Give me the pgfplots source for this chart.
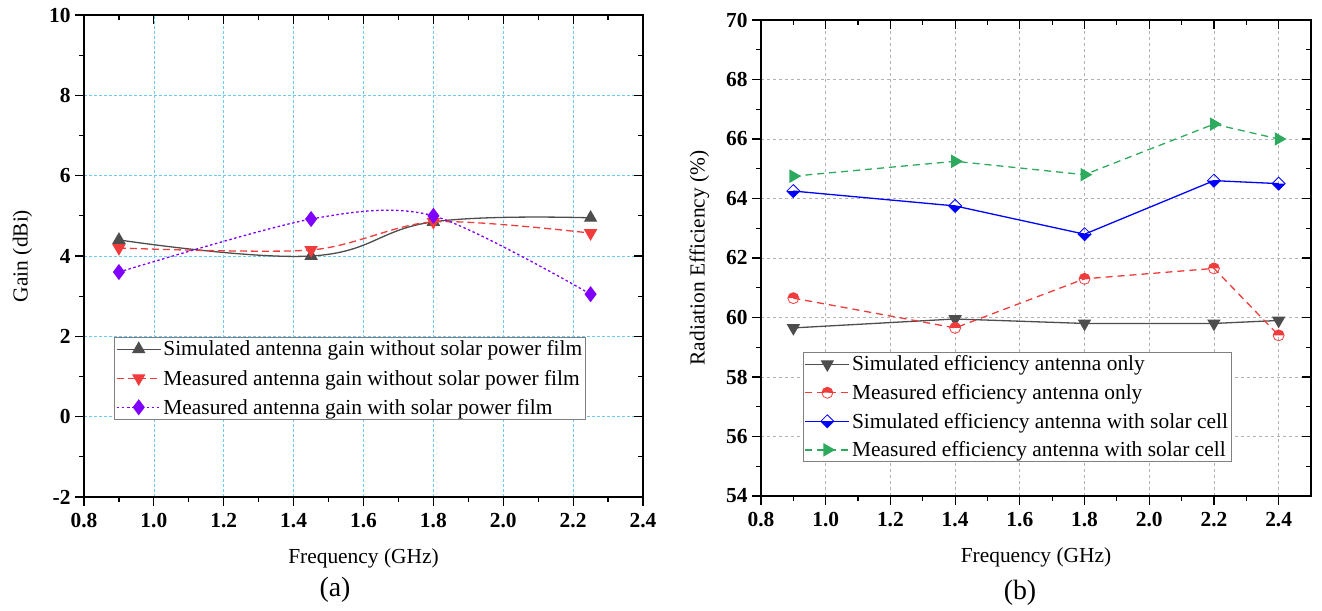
\documentclass[border=0pt]{standalone}
\usepackage{fontspec}
\setmainfont{Liberation Serif}
\usepackage{pgfplots}
\pgfplotsset{compat=1.18}

\definecolor{simgray}{RGB}{77,77,77}
\definecolor{mred}{RGB}{240,60,60}
\definecolor{mpurple}{RGB}{128,0,255}
\definecolor{gridblue}{RGB}{110,200,240}
\definecolor{mblue}{RGB}{0,0,255}
\definecolor{mgreen}{RGB}{46,170,94}

\pgfdeclareplotmark{halfo}{%
  \pgfpathmoveto{\pgfqpoint{\pgfplotmarksize}{0pt}}%
  \pgfpatharc{0}{180}{\pgfplotmarksize}%
  \pgfpathclose
  \pgfusepathqfill
  \pgfpathcircle{\pgfpointorigin}{\pgfplotmarksize}%
  \pgfusepathqstroke
}
\pgfdeclareplotmark{halfdiamond}{%
  \pgfpathmoveto{\pgfqpoint{-\pgfplotmarksize}{0pt}}%
  \pgfpathlineto{\pgfqpoint{0pt}{-\pgfplotmarksize}}%
  \pgfpathlineto{\pgfqpoint{\pgfplotmarksize}{0pt}}%
  \pgfpathclose
  \pgfusepathqfill
  \pgfpathmoveto{\pgfqpoint{-\pgfplotmarksize}{0pt}}%
  \pgfpathlineto{\pgfqpoint{0pt}{-\pgfplotmarksize}}%
  \pgfpathlineto{\pgfqpoint{\pgfplotmarksize}{0pt}}%
  \pgfpathlineto{\pgfqpoint{0pt}{\pgfplotmarksize}}%
  \pgfpathclose
  \pgfusepathqstroke
}

\pgfplotsset{
  common/.style={
    scale only axis,
    axis line style={line width=1.4bp},
    every tick/.style={line width=1.2bp, black},
    major tick length=9bp, minor tick length=5bp,
    tick align=outside,
    xtick pos=bottom, ytick pos=left,
    tick label style={font=\fontsize{21.5}{25}\selectfont},
    xticklabel={\textbf{\pgfmathprintnumber[fixed,fixed zerofill,precision=1,assume math mode=true]{\tick}}},
    yticklabel={\textbf{\pgfmathprintnumber[fixed,precision=0,assume math mode=true]{\tick}}},
    xticklabel style={yshift=-4bp},
    yticklabel style={xshift=-1bp},
    label style={font=\fontsize{21.5}{25}\selectfont},
    xlabel style={yshift=-14bp},
    ylabel style={yshift=10bp},
    minor x tick num=1, minor y tick num=1,
    legend cell align=left,
    legend image code/.code={\draw[mark repeat=2,mark phase=2] plot coordinates {(0bp,0bp) (22bp,0bp) (44bp,0bp)};},
  },
  mirror/.style={
    scale only axis,
    axis line style={line width=1.4bp},
    every tick/.style={line width=1.2bp, black},
    major tick length=9bp, minor tick length=5bp,
    tick align=inside,
    xtick pos=top, ytick pos=right,
    xticklabels={}, yticklabels={},
    minor x tick num=1, minor y tick num=1,
  },
}

\begin{document}
\begin{tikzpicture}
\path[use as bounding box] (0,0) rectangle (1322bp,611bp);

% ---------- (a) ----------
\begin{axis}[common,
  at={(84bp,114bp)}, anchor=south west,
  width=559bp, height=482bp,
  xmin=0.8, xmax=2.4, ymin=-2, ymax=10,
  xtick={0.8,1.0,...,2.41}, ytick={-2,0,...,10},
  grid=major,
  major grid style={densely dashed, gridblue, line width=0.7bp},
  xlabel={Frequency (GHz)}, ylabel={Gain (dBi)},
  legend style={at={(0.054,0.332)}, anchor=north west, draw=gray, line width=0.8bp,
    font=\fontsize{21.5}{25}\selectfont, inner sep=1.5bp, row sep=8.5bp},
]
\addplot[simgray, line width=1.3bp, smooth, tension=0.7, mark=triangle*, mark size=6.5bp, mark options={solid}]
  coordinates {(0.9,4.4) (1.45,4.0) (1.8,4.85) (2.25,4.95)};
\addlegendentry{Simulated antenna gain without solar power film}
\addplot[mred, line width=1.3bp, smooth, dash pattern=on 7bp off 4bp, mark=triangle*, mark size=6.5bp, mark options={solid, rotate=180}]
  coordinates {(0.9,4.2) (1.45,4.15) (1.8,4.85) (2.25,4.57)};
\addlegendentry{Measured antenna gain without solar power film}
\addplot[mpurple, line width=1.3bp, smooth, dash pattern=on 2.5bp off 2.5bp, mark=diamond*, mark size=7bp, mark options={solid}]
  coordinates {(0.9,3.6) (1.45,4.92) (1.8,5.0) (2.25,3.05)};
\addlegendentry{Measured antenna gain with solar power film}
\end{axis}
\begin{axis}[mirror,
  at={(84bp,114bp)}, anchor=south west,
  width=559bp, height=482bp,
  xmin=0.8, xmax=2.4, ymin=-2, ymax=10,
  xtick={0.8,1.0,...,2.41}, ytick={-2,0,...,10},
]
\end{axis}

% ---------- (b) ----------
\begin{axis}[common,
  at={(761bp,115bp)}, anchor=south west,
  width=550bp, height=476bp,
  xmin=0.8, xmax=2.5, ymin=54, ymax=70,
  xtick={0.8,1.0,...,2.41}, ytick={54,56,...,70},
  grid=major,
  major grid style={dash pattern=on 3bp off 3bp, gray!60, line width=0.7bp},
  xlabel={Frequency (GHz)}, ylabel={Radiation Efficiency (\%)},
  legend style={at={(0.076,0.3025)}, anchor=north west, draw=gray, line width=0.8bp,
    font=\fontsize{21.5}{25}\selectfont, inner sep=1.5bp, row sep=8bp},
]
\addplot[simgray, line width=1.3bp, mark=triangle*, mark size=6.5bp, mark options={solid, rotate=180}]
  coordinates {(0.9,59.65) (1.4,59.95) (1.8,59.8) (2.2,59.8) (2.4,59.9)};
\addlegendentry{Simulated efficiency antenna only}
\addplot[mred, line width=1.3bp, dash pattern=on 7bp off 5bp, mark=halfo, mark size=5.5bp, mark options={solid, fill=mred, draw=mred, line width=0.8bp}]
  coordinates {(0.9,60.65) (1.4,59.65) (1.8,61.3) (2.2,61.65) (2.4,59.4)};
\addlegendentry{Measured efficiency antenna only}
\addplot[mblue, line width=1.3bp, mark=halfdiamond, mark size=6.5bp, mark options={solid, fill=mblue, draw=mblue, line width=0.8bp}]
  coordinates {(0.9,64.25) (1.4,63.75) (1.8,62.8) (2.2,64.6) (2.4,64.5)};
\addlegendentry{Simulated efficiency antenna with solar cell}
\addplot[mgreen, line width=1.3bp, dash pattern=on 7bp off 5bp, mark=triangle*, mark size=6.5bp, mark options={solid, rotate=-90}]
  coordinates {(0.9,64.75) (1.4,65.25) (1.8,64.8) (2.2,66.5) (2.4,66.0)};
\addlegendentry{Measured efficiency antenna with solar cell}
\end{axis}
\begin{axis}[mirror,
  at={(761bp,115bp)}, anchor=south west,
  width=550bp, height=476bp,
  xmin=0.8, xmax=2.5, ymin=54, ymax=70,
  xtick={0.8,1.0,...,2.41}, ytick={54,56,...,70},
]
\end{axis}

\node[font=\fontsize{28}{32}\selectfont] at (335bp,21bp) {(a)};
\node[font=\fontsize{28}{32}\selectfont] at (1020bp,18bp) {(b)};
\end{tikzpicture}
\end{document}
